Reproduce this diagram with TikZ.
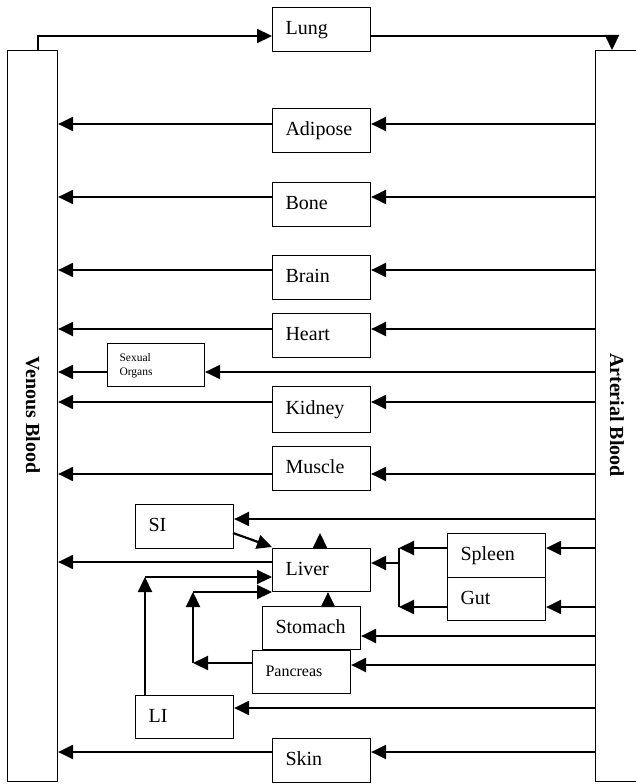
\documentclass[tikz,border=0pt]{standalone}
\usepackage{fontspec}
\setmainfont{Liberation Serif}
\usetikzlibrary{arrows.meta}
\newfontfamily\organfont{Liberation Serif}
\tikzset{
  organ/.style={draw, line width=1.1pt, minimum width=98pt, minimum height=44pt,
    inner xsep=13pt, inner ysep=0pt, text width=72pt, align=left,
    text height=14pt, text depth=4pt, anchor=north west,
    font=\fontsize{20pt}{22pt}\selectfont},
  bloodbox/.style={draw, line width=1.1pt, minimum width=50pt, minimum height=731pt,
    inner sep=0pt, anchor=north west},
  bloodtxt/.style={rotate=-90, font=\fontsize{20pt}{22pt}\selectfont\bfseries},
  conn/.style={line width=2.2pt, -{Triangle[length=15pt,width=14pt]}},
  wire/.style={line width=2.2pt}
}
\begin{document}
\begin{tikzpicture}[x=1pt,y=-1pt]
\path[use as bounding box, clip] (0,0) rectangle (636,784);
% blood boxes
\node[bloodbox] (venous) at (7,50) {};
\node[bloodbox] (arterial) at (595,50) {};
\node[bloodtxt] (venoustxt) at (33,415) {Venous Blood};
\node[bloodtxt] (arterialtxt) at (617,415) {Arterial Blood};
% organs
\node[organ] (lung) at (272,7) {Lung};
\node[organ] (adipose) at (272,108) {Adipose};
\node[organ] (bone) at (272,182) {Bone};
\node[organ] (brain) at (272,255) {Brain};
\node[organ] (heart) at (272,313) {Heart};
\node[organ, minimum height=43pt, minimum width=97pt, text width=73pt, inner xsep=12pt,
  text height=10pt, text depth=18pt, font=\fontsize{11.5pt}{14pt}\selectfont] (sexual) at (107,343) {Sexual\\Organs};
\node[organ, minimum height=46pt] (kidney) at (272,386) {Kidney};
\node[organ] (muscle) at (272,446) {Muscle};
\node[organ] (si) at (135,504) {SI};
\node[organ, minimum height=43pt] (liver) at (272,548) {Liver};
\node[organ] (spleen) at (447,533) {Spleen};
\node[organ, minimum height=43pt] (gut) at (447,577) {Gut};
\node[organ, minimum width=97pt, minimum height=43pt] (stomach) at (262,606) {Stomach};
\node[organ, minimum width=97pt, minimum height=43pt, text height=12pt, text depth=4pt,
  font=\fontsize{16pt}{18pt}\selectfont] (pancreas) at (252,650) {Pancreas};
\node[organ, minimum height=43pt] (li) at (135,695) {LI};
\node[organ] (skin) at (272,738) {Skin};
% coordinates
\coordinate (vtop) at (38,50);
\coordinate (lungin) at (272,36);
\coordinate (lungout) at (370,36);
\coordinate (atop) at (612,50);
% lung loop
\draw[conn] (vtop) |- (lungin);
\draw[conn] (lungout) -| (atop);
% simple rows
\foreach \o/\y in {adipose/124, bone/197, brain/270, heart/329, kidney/402, muscle/474, skin/752}{
  \draw[conn] (arterial.west |- 0,\y) -- (\o.east |- 0,\y);
  \draw[conn] (\o.west |- 0,\y) -- (venous.east |- 0,\y);
}
\draw[conn] (arterial.west |- 0,372) -- (sexual.east |- 0,372);
\draw[conn] (sexual.west |- 0,372) -- (venous.east |- 0,372);
% splanchnic
\draw[conn] (arterial.west |- 0,519) -- (si.east |- 0,519);
\coordinate (siout) at (233,533);
\coordinate (liin) at (272,547);
\draw[conn] (siout) -- (liin);
\draw[conn] (liver.north -| 320,0) -- ++(0,-15);
\draw[conn] (liver.west |- 0,562) -- (venous.east |- 0,562);
\draw[conn] (arterial.west |- 0,548) -- (spleen.east |- 0,548);
\draw[conn] (arterial.west |- 0,607) -- (gut.east |- 0,607);
\coordinate (jtop) at (399,548);
\coordinate (jbot) at (399,607);
\coordinate (jmid) at (399,563);
\draw[conn] (spleen.west |- 0,548) -- (jtop);
\draw[conn] (gut.west |- 0,607) -- (jbot);
\draw[wire] (jtop) -- (jbot);
\draw[conn] (jmid) -- (liver.east |- 0,563);
\draw[conn] (arterial.west |- 0,636) -- (stomach.east |- 0,636);
\draw[conn] (stomach.north -| 328,0) -- (liver.south -| 328,0);
\draw[conn] (arterial.west |- 0,665) -- (pancreas.east |- 0,665);
\coordinate (pa) at (193,663);
\coordinate (pb) at (193,592);
\draw[conn] (pancreas.west |- 0,663) -- (pa);
\draw[conn] (pa) -- (pb);
\draw[conn] (pb) -- (liver.west |- 0,592);
\draw[conn] (arterial.west |- 0,708) -- (li.east |- 0,708);
\coordinate (la) at (145,577);
\draw[conn] (li.north -| 145,0) -- (la);
\draw[conn] (la) -- (liver.west |- 0,577);
\end{tikzpicture}
\end{document}
